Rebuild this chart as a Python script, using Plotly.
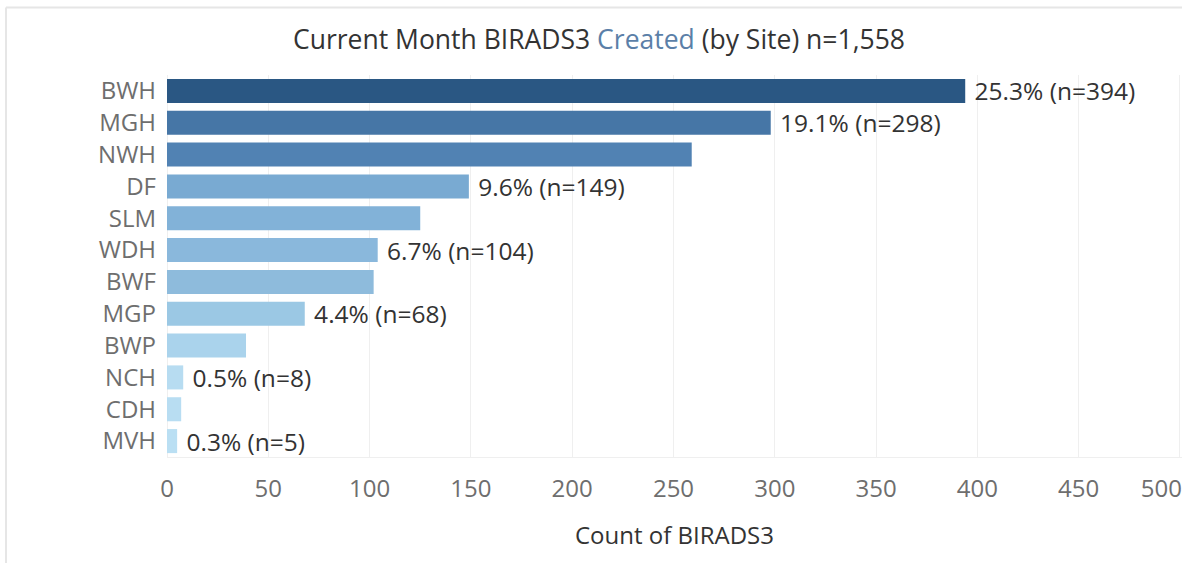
import plotly.graph_objects as go

# data
sites = ['BWH', 'MGH', 'NWH', 'DF', 'SLM', 'WDH', 'BWF', 'MGP', 'BWP', 'NCH', 'CDH', 'MVH']
counts = [394, 298, 259, 149, 125, 104, 102, 68, 39, 8, 7, 5]
bar_colors = ['#2a5783', '#4676a6', '#5182b3', '#79aad2', '#82b2d8', '#8ab8dc',
              '#8ebbdc', '#9bc8e4', '#aad3ec', '#b7dcf1', '#b8ddf2', '#badff3']
# Tableau only drew some of the labels
show_label = [True, True, False, True, False, True, False, True, False, True, False, True]
x_ticks = [0, 50, 100, 150, 200, 250, 300, 350, 400, 450, 500]

total = sum(counts)
labels = [f' {c / total * 100:.1f}% (n={c})' if s else '' for c, s in zip(counts, show_label)]
# last tick label sits on the right edge, nudge it inwards like Tableau does
tick_text = [str(v) for v in x_ticks]
tick_text[-1] = tick_text[-1] + '\u00a0' * 6

FONT = 'Open Sans'
W, H = 1182, 563
L, R, T, B = 167, 0, 75, 106

fig = go.Figure()
fig.add_trace(go.Bar(
    x=counts,
    y=sites,
    orientation='h',
    marker=dict(color=bar_colors, line_width=0),
    text=labels,
    textposition='outside',
    constraintext='none',
    textfont=dict(size=24.5, color='#333333', family=FONT),
    cliponaxis=False,
    hoverinfo='x+y',
))

fig.update_layout(
    width=W, height=H,
    margin=dict(l=L, r=R, t=T, b=B),
    plot_bgcolor='white',
    paper_bgcolor='white',
    bargap=0.245,
    showlegend=False,
    font=dict(family=FONT),
    title=dict(
        text="Current Month BIRADS3 <span style='color:#5b7fa8'>Created</span> (by Site) n=1,558",
        x=599 / W, xref='container', xanchor='center',
        y=1 - 40 / H, yref='container', yanchor='middle',
        font=dict(size=26.5, color='#333333', family=FONT),
    ),
)

fig.update_xaxes(
    range=[0, 501],
    tickmode='array', tickvals=x_ticks, ticktext=tick_text,
    automargin=False,
    showgrid=True, gridcolor='#efefef', gridwidth=1,
    zeroline=True, zerolinecolor='#efefef', zerolinewidth=1,
    showline=True, linecolor='#efefef', linewidth=1,
    ticks='', ticklabelstandoff=10, ticklabeloverflow='allow',
    tickfont=dict(size=24, color='#6e6e6e', family=FONT),
    title=dict(text='Count of BIRADS3', standoff=24,
               font=dict(size=24, color='#333333', family=FONT, weight=500)),
)
fig.update_yaxes(
    autorange='reversed',
    automargin=False,
    showgrid=False,
    ticks='', ticklabelstandoff=10,
    tickfont=dict(size=24, color='#6e6e6e', family=FONT),
)

# light frame on the top and left of the sheet
pw = W - L - R
ph = H - T - B
bx = (6 - L) / pw
by = (H - B - 7.5) / ph
fig.add_shape(type='line', xref='paper', yref='paper', x0=bx, x1=bx, y0=-0.5, y1=by,
              line=dict(color='#e6e6e6', width=2))
fig.add_shape(type='line', xref='paper', yref='paper', x0=bx, x1=1.2, y0=by, y1=by,
              line=dict(color='#e6e6e6', width=2))

fig.write_html('out.html', config={'displayModeBar': False},
               post_script="document.body.style.margin='0';")
